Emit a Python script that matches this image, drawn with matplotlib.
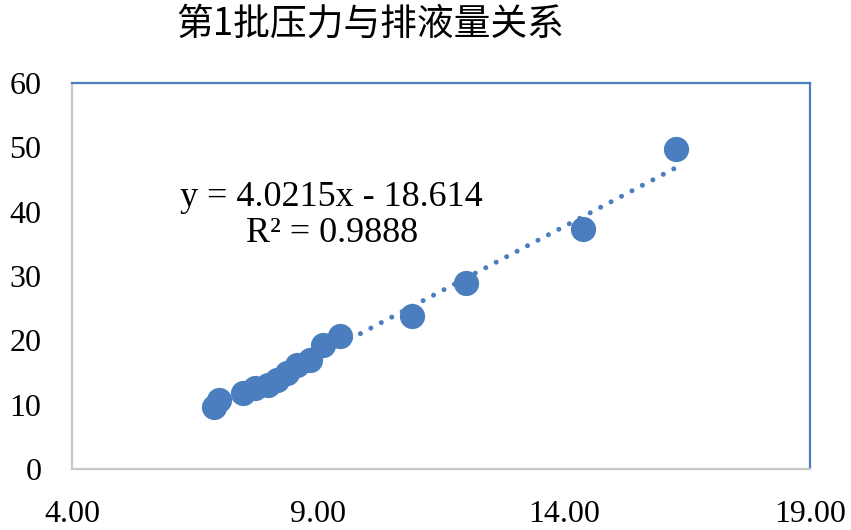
import matplotlib
matplotlib.use("Agg")
import matplotlib.pyplot as plt
import numpy as np

# pressure vs. discharge, batch 1
x = [6.89, 6.99, 7.48, 7.72, 7.98, 8.17, 8.37, 8.57, 8.84, 9.10, 9.45, 10.91, 12.01, 14.39, 16.28]
y = [9.6, 10.7, 11.8, 12.6, 13.1, 13.8, 14.9, 16.2, 17.0, 19.3, 20.7, 23.8, 28.9, 37.3, 49.8]
x_ticks = [4.0, 9.0, 14.0, 19.0]
y_ticks = [0, 10, 20, 30, 40, 50, 60]
# trendline as printed on the chart
slope, intercept = 4.0215, -18.614
r2 = 0.9888
title = "第1批压力与排液量关系"

blue = "#4A7EBF"
serif = "Liberation Serif"

fig = plt.figure(figsize=(8.51, 5.30), dpi=100)
ax = fig.add_axes([72/851, 1-469/530, (810-72)/851, (469-83)/530])

ax.scatter(x, y, s=330, color=blue, zorder=3, linewidths=0)
xs = np.array([min(x), max(x)])
ax.plot(xs, slope*xs + intercept, color=blue, lw=3.6, linestyle=(0, (0.01, 2.35)),
        dash_capstyle="round", zorder=4)

ax.set_xlim(4, 19)
ax.set_ylim(0, 60)
ax.set_xticks(x_ticks)
ax.set_xticklabels([f"{v:.2f}" for v in x_ticks])
ax.set_yticks(y_ticks)
ax.tick_params(length=0, labelsize=23)
ax.tick_params(axis="y", pad=22)
ax.tick_params(axis="x", pad=22)
for lab in ax.get_xticklabels() + ax.get_yticklabels():
    lab.set_fontfamily(serif)

for side in ["top", "right"]:
    ax.spines[side].set_color(blue)
    ax.spines[side].set_linewidth(1.6)
for side in ["left", "bottom"]:
    ax.spines[side].set_color("#C8C8C8")
    ax.spines[side].set_linewidth(1.6)

sign = "-" if intercept < 0 else "+"
ax.text(331/851, 1-198/530, f"y = {slope}x {sign} {abs(intercept)}", transform=fig.transFigure,
        ha="center", va="center", fontsize=26, family=serif)
ax.text(332/851, 1-234/530, f"R² = {r2}", transform=fig.transFigure,
        ha="center", va="center", fontsize=26, family=serif)

fig.text(370/851, 1-24/530, title, ha="center", va="center", fontsize=26.5,
         family=["Noto Sans CJK SC", "DejaVu Sans"], fontweight="medium")

fig.savefig("out.png", dpi=100)
